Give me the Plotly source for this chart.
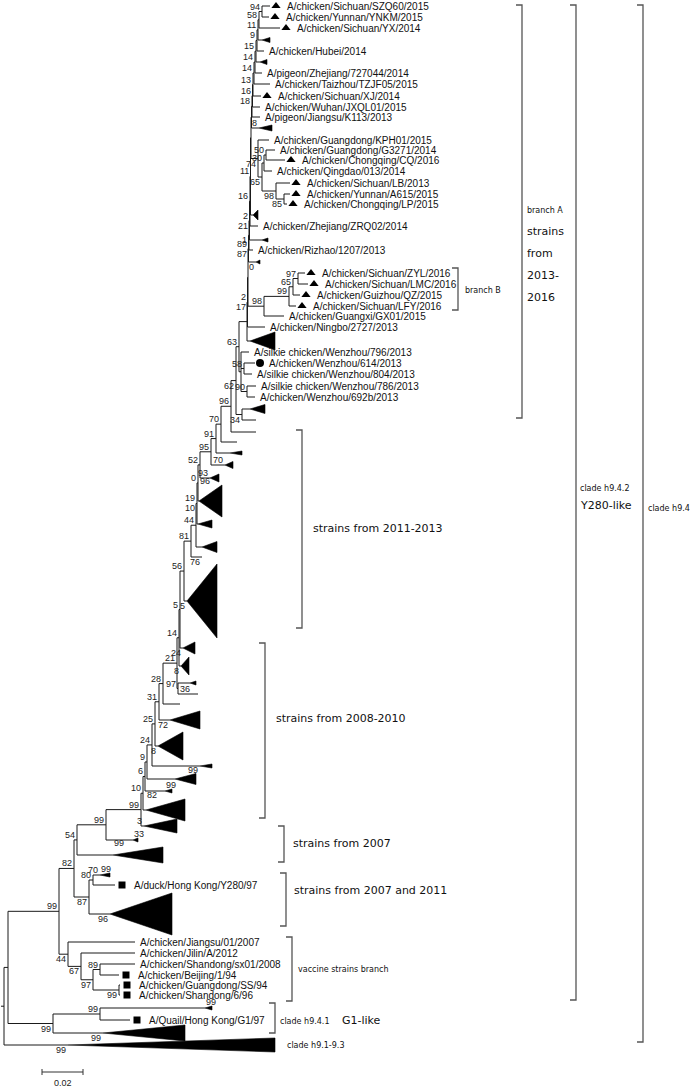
import plotly.graph_objects as go

# ---------------- tree data (x = divergence in drawing units, 41 units = 0.02) -------------
# internal nodes: (id, parent, x)
internal_nodes = [
    ("root", None, 4), ("H94", "root", 8), ("R942", "H94", 59), ("G1n", "H94", 53),
    ("N100g", "G1n", 100), ("N44", "R942", 68), ("N67", "N44", 81), ("N97", "N67", 93),
    ("N89", "N97", 100), ("N99v", "N97", 119), ("N82", "R942", 74), ("N87", "N82", 89),
    ("N80", "N87", 93), ("N54", "N82", 77), ("N99a", "N54", 106), ("Ntr", "N99a", 141),
    ("L1", "Ntr", 143), ("L2", "L1", 145), ("L3", "L2", 147), ("L4", "L3", 152),
    ("L5", "L4", 155), ("L6", "L5", 159), ("L7", "L6", 163), ("L8", "L7", 177),
    ("N36", "L8", 178), ("L9", "L8", 179), ("L10", "L9", 180), ("N56", "L10", 184),
    ("N81", "N56", 191), ("N44b", "N81", 196), ("N19", "N44b", 197), ("N0", "N19", 198),
    ("N52", "N0", 200), ("N95", "N52", 211), ("N91", "N95", 216), ("N70t", "N91", 221),
    ("N96t", "N70t", 231), ("N62", "N96t", 236), ("N34", "N62", 242), ("N63", "N62", 239),
    ("NW", "N63", 241), ("N58", "NW", 244), ("N90", "NW", 247), ("T19", "N63", 247),
    ("T18", "T19", 247.5), ("T17", "T18", 248), ("T16", "T17", 248.5), ("T15", "T16", 249),
    ("T14", "T15", 249.5), ("T13", "T14", 250), ("T12", "T13", 250.5), ("T11", "T12", 251),
    ("T10", "T11", 251.5), ("T9", "T10", 252), ("T8", "T9", 252.5), ("T7", "T8", 253),
    ("T6", "T7", 254), ("T5", "T6", 255), ("T4", "T5", 256), ("T3", "T4", 257),
    ("T2", "T3", 258), ("T1", "T2", 259), ("N94", "T1", 262), ("N74", "T11", 258),
    ("N65", "N74", 262), ("N30", "N65", 264), ("N50", "N30", 266), ("N98", "N65", 276),
    ("N85", "N98", 284), ("N98b", "T17", 264), ("N99b", "N98b", 289), ("N65b", "N99b", 293),
    ("N97b", "N65b", 298),
]

# tips: (id, parent, x_end, row_y, name, marker)
tips = [
    ("SZQ60", "N94", 270, 6, "A/chicken/Sichuan/SZQ60/2015", "tri"),
    ("YNKM", "N94", 269, 17, "A/chicken/Yunnan/YNKM/2015", "tri"),
    ("YX", "T1", 280, 28, "A/chicken/Sichuan/YX/2014", "tri"),
    ("Hubei", "T3", 264, 51, "A/chicken/Hubei/2014", None),
    ("pigZ", "T5", 262, 73, "A/pigeon/Zhejiang/727044/2014", None),
    ("TZJF", "T6", 270, 84, "A/chicken/Taizhou/TZJF05/2015", None),
    ("XJ", "T7", 261, 96, "A/chicken/Sichuan/XJ/2014", "tri"),
    ("JXQL", "T8", 260, 107, "A/chicken/Wuhan/JXQL01/2015", None),
    ("K113", "T9", 260, 117, "A/pigeon/Jiangsu/K113/2013", None),
    ("KPH01", "N74", 269, 140, "A/chicken/Guangdong/KPH01/2015", None),
    ("G3271", "N50", 275, 150, "A/chicken/Guangdong/G3271/2014", None),
    ("CQ", "N50", 285, 160, "A/chicken/Chongqing/CQ/2016", "tri"),
    ("Qingdao", "N30", 272, 171, "A/chicken/Qingdao/013/2014", None),
    ("LB", "N98", 290, 183, "A/chicken/Sichuan/LB/2013", "tri"),
    ("A615", "N85", 290, 194, "A/chicken/Yunnan/A615/2015", "tri"),
    ("LP", "N85", 287, 204, "A/chicken/Chongqing/LP/2015", "tri"),
    ("ZRQ02", "T13", 258, 226, "A/chicken/Zhejiang/ZRQ02/2014", None),
    ("Rizhao", "T15", 253, 250, "A/chicken/Rizhao/1207/2013", None),
    ("ZYL", "N97b", 305, 273, "A/chicken/Sichuan/ZYL/2016", "tri"),
    ("LMC", "N97b", 308, 284, "A/chicken/Sichuan/LMC/2016", "tri"),
    ("QZ", "N65b", 300, 295, "A/chicken/Guizhou/QZ/2015", "tri"),
    ("LFY", "N99b", 296, 306, "A/chicken/Sichuan/LFY/2016", "tri"),
    ("GX01", "N98b", 284, 316, "A/chicken/Guangxi/GX01/2015", None),
    ("Ningbo", "T18", 265, 327, "A/chicken/Ningbo/2727/2013", None),
    ("W796", "NW", 249, 352, "A/silkie chicken/Wenzhou/796/2013", None),
    ("W614", "N58", 255, 363, "A/chicken/Wenzhou/614/2013", "circ"),
    ("W804", "N58", 252, 374, "A/silkie chicken/Wenzhou/804/2013", None),
    ("W786", "N90", 256, 386, "A/silkie chicken/Wenzhou/786/2013", None),
    ("W692", "N90", 255, 397, "A/chicken/Wenzhou/692b/2013", None),
    ("t420", "N34", 256, 420, "", None),
    ("t432", "N96t", 256, 432, "", None),
    ("t442", "N70t", 237, 442, "", None),
    ("t557", "N81", 202, 557, "", None),
    ("t694", "N36", 198, 694, "", None),
    ("t704", "L7", 180, 704, "", None),
    ("Y280", "N80", 115, 885, "A/duck/Hong Kong/Y280/97", "sq"),
    ("JS01", "N44", 135, 942, "A/chicken/Jiangsu/01/2007", None),
    ("Jilin", "N67", 135, 953, "A/chicken/Jilin/A/2012", None),
    ("SDsx", "N89", 135, 964, "A/chicken/Shandong/sx01/2008", None),
    ("BJ", "N89", 119, 975, "A/chicken/Beijing/1/94", "sq"),
    ("GDSS", "N99v", 120, 985, "A/chicken/Guangdong/SS/94", "sq"),
    ("SD696", "N99v", 120, 995, "A/chicken/Shandong/6/96", "sq"),
    ("G1", "N100g", 130, 1020, "A/Quail/Hong Kong/G1/97", "sq"),
]

# collapsed clades: (id, parent, apex_x, base_x, row_y, half_height)
collapsed = [
    ("c40", "T2", 262, 270, 40, 2.5), ("c62", "T4", 260, 267, 62, 2.5),
    ("c128", "T10", 259, 272, 128, 3), ("tri215", "T12", 253, 258, 215, 5),
    ("c240", "T14", 262, 268, 240, 2), ("c262", "T16", 256, 260, 262, 2),
    ("tri340", "T19", 250, 275, 341, 9), ("tri409", "N34", 250, 265, 409, 4.5),
    ("c453", "N91", 230, 242, 453, 2), ("tri465", "N95", 225, 233, 465, 3.5),
    ("tri478", "N52", 210, 219, 478, 4), ("tri500", "N0", 199, 222, 501, 16),
    ("tri524", "N19", 198, 212, 524, 4), ("tri547", "N44b", 202, 217, 547, 5.5),
    ("tri600", "N56", 187, 217, 601, 37), ("tri648", "L10", 183, 195, 648, 6),
    ("tri663", "L9", 181, 189, 666, 9), ("c683", "N36", 190, 196, 683, 2),
    ("tri719", "L6", 170, 200, 720, 9), ("tri745", "L5", 158, 183, 746, 14),
    ("c766", "L4", 200, 212, 766, 2), ("tri779", "L3", 175, 196, 779, 5.5),
    ("c791", "L2", 165, 172, 791, 2), ("tri82", "L1", 146, 185, 810, 11),
    ("tri3b", "Ntr", 144, 177, 826, 7), ("c840", "N99a", 133, 138, 840, 2),
    ("tri2007", "N54", 113, 163, 855, 8), ("c875", "N80", 100, 110, 875, 2),
    ("tri96", "N87", 110, 172, 914, 21), ("c1008", "N100g", 205, 212, 1008, 2),
    ("trig1", "G1n", 103, 185, 1033, 8), ("trih913", "root", 68, 275, 1045, 7),
]

# bootstrap values: (node id, value, placement)
bootstrap = [
    ("N94", "94", "a"), ("T1", "58", "a"), ("T2", "11", "a"), ("T3", "9", "a"),
    ("T4", "15", "a"), ("T5", "14", "a"), ("T6", "14", "a"), ("T7", "13", "a"),
    ("T8", "16", "a"), ("T9", "18", "a"), ("c128", "8", "a"), ("N50", "50", "a"),
    ("N30", "30", "a"), ("N74", "74", "b"), ("N65", "65", "b"), ("N98", "98", "b"),
    ("N85", "85", "b"), ("T12", "11", "a"), ("T13", "16", "a"), ("T14", "2", "a"),
    ("T14", "21", "b"), ("T15", "1", "b"), ("T16", "89", "a"), ("T16", "87", "b"),
    ("c262", "0", "b"), ("N97b", "97", "a"), ("N65b", "65", "a"), ("N99b", "99", "a"),
    ("N98b", "98", "a"), ("T18", "2", "a"), ("T18", "17", "b"), ("N63", "63", "a"),
    ("N58", "58", "a"), ("N62", "62", "b"), ("N90", "90", "a"), ("N34", "34", "b"),
    ("N96t", "96", "a"), ("N70t", "70", "a"), ("N91", "91", "a"), ("N95", "95", "a"),
    ("tri465", "70", "a"), ("N52", "52", "a"), ("tri478", "93", "a"), ("N0", "0", "a"),
    ("tri500", "96", "t"), ("N19", "19", "a"), ("N19", "10", "b"), ("N44b", "44", "a"),
    ("N81", "81", "a"), ("t557", "76", "b"), ("N56", "56", "a"), ("L10", "5", "a"),
    ("tri600", "5", "b"), ("L9", "14", "a"), ("L8", "21", "a"), ("tri648", "24", "b"),
    ("tri663", "8", "b"), ("N36", "97", "a"), ("t694", "36", "s"), ("L7", "28", "a"),
    ("L6", "31", "a"), ("L5", "25", "a"), ("tri719", "72", "b"), ("L4", "24", "a"),
    ("tri745", "8", "b"), ("L3", "9", "a"), ("L2", "6", "a"), ("tri779", "99", "r"),
    ("L1", "10", "a"), ("c791", "99", "t"), ("Ntr", "99", "a"), ("tri82", "82", "t"),
    ("tri3b", "3", "a"), ("c840", "33", "t"), ("N99a", "99", "a"), ("tri2007", "99", "t"),
    ("N54", "54", "a"), ("N82", "82", "a"), ("N80", "80", "a"), ("c875", "70", "a"),
    ("c875", "99", "t"), ("N87", "87", "b"), ("tri96", "96", "b"), ("R942", "99", "a"),
    ("N44", "44", "b"), ("N67", "67", "b"), ("N89", "89", "a"), ("N97", "97", "b"),
    ("N99v", "99", "b"), ("N100g", "99", "a"), ("c1008", "99", "t"), ("G1n", "99", "b"),
    ("trig1", "99", "b"), ("trih913", "99", "b"),
]

# clade brackets: (x, y_top, y_bottom)
brackets = [
    (522, 5, 418), (458, 268, 310), (576, 5, 1000), (643, 5, 1042),
    (302, 430, 628), (265, 643, 818), (284, 826, 862), (286, 873, 926),
    (292, 937, 1001), (275, 1003, 1033),
]
# bracket texts: (text, x, y, size)
bracket_texts = [
    ("branch A", 525, 210, 8), ("strains", 525, 231, 11), ("from", 525, 253, 11),
    ("2013-", 525, 275, 11), ("2016", 525, 297, 11), ("branch B", 463, 290, 8),
    ("clade h9.4.2", 578, 488, 8), ("Y280-like", 578, 505, 11), ("clade h9.4", 646, 508, 8),
    ("strains from 2011-2013", 311, 528, 11), ("strains from 2008-2010", 274, 718, 11),
    ("strains from 2007", 291, 843, 11), ("strains from 2007 and 2011", 292, 890, 11),
    ("vaccine strains branch", 296, 969, 8), ("clade h9.4.1", 278, 1021, 8),
    ("G1-like", 340, 1020, 11), ("clade h9.1-9.3", 285, 1045, 8),
]
scale_bar = (42, 83, 1072, "0.02")

# ---------------- build geometry ----------------
X, Y, PARENT = {}, {}, {}
children = {}
for nid, par, x in internal_nodes:
    X[nid] = x; PARENT[nid] = par
for nid, par, x, y, name, mk in tips:
    X[nid] = x; Y[nid] = y; PARENT[nid] = par
HALF, BASE = {}, {}
for nid, par, ax, bx, y, h in collapsed:
    X[nid] = ax; Y[nid] = y; PARENT[nid] = par; HALF[nid] = h; BASE[nid] = bx
for nid, par in PARENT.items():
    if par is not None:
        children.setdefault(par, []).append(nid)


def get_y(n):
    if n in Y:
        return Y[n]
    ys = [get_y(c) for c in children[n]]
    Y[n] = (min(ys) + max(ys)) / 2
    return Y[n]


get_y("root")

lx, ly = [], []
for nid, par in PARENT.items():
    if par is not None:
        lx += [X[par], X[nid], None]; ly += [Y[nid], Y[nid], None]
    if nid in children:
        ys = [Y[c] for c in children[nid]]
        lx += [X[nid], X[nid], None]; ly += [min(ys), max(ys), None]
lx += [1, X["root"], None]; ly += [Y["root"], Y["root"], None]

tx, ty = [], []
for nid, par, ax, bx, y, h in collapsed:
    tx += [ax, bx, bx, ax, None]; ty += [y, y - h, y + h, y, None]

fig = go.Figure()
fig.add_trace(go.Scatter(x=lx, y=ly, mode="lines", line=dict(color="#1a1a1a", width=1),
                         hoverinfo="skip", showlegend=False))
fig.add_trace(go.Scatter(x=tx, y=ty, mode="lines", fill="toself", fillcolor="black",
                         line=dict(color="black", width=0.6), hoverinfo="skip", showlegend=False))

mk_cfg = {"tri": ("triangle-up", 8, 6, 15), "sq": ("square", 7, 7, 17), "circ": ("circle", 8, 5, 12)}
for kind, (sym, size, off, _) in mk_cfg.items():
    mx = [x + off for nid, par, x, y, nm, m in tips if m == kind]
    my = [y for nid, par, x, y, nm, m in tips if m == kind]
    fig.add_trace(go.Scatter(x=mx, y=my, mode="markers", marker=dict(symbol=sym, size=size, color="black"),
                             hoverinfo="skip", showlegend=False))

ann = []
for nid, par, x, y, name, m in tips:
    if not name:
        continue
    tx0 = x + (mk_cfg[m][3] if m else 3)
    ann.append(dict(x=tx0, y=y, text=name, xanchor="left", yanchor="middle", showarrow=False,
                    font=dict(family="Arial, Liberation Sans, sans-serif", size=10, color="#111")))

for nid, val, mode in bootstrap:
    x, y = X[nid], Y[nid]
    if mode == "a":
        a = dict(x=x - 1, y=y - 5, xanchor="right")
    elif mode == "b":
        a = dict(x=x - 1, y=y + 5, xanchor="right")
    elif mode == "t":
        a = dict(x=x, y=y - HALF.get(nid, 0) - 4, xanchor="left")
    elif mode == "r":
        a = dict(x=BASE[nid] - 9, y=y - HALF.get(nid, 0) - 4, xanchor="left")
    else:
        a = dict(x=X[PARENT[nid]] + 1, y=y - 5, xanchor="left")
    a.update(text=val, yanchor="middle", showarrow=False, borderpad=0,
             font=dict(family="Arial, Liberation Sans, sans-serif", size=9, color="#222"))
    ann.append(a)

bx_, by_ = [], []
for x, y0, y1 in brackets:
    bx_ += [x - 6, x, x, x - 6, None]; by_ += [y0, y0, y1, y1, None]
fig.add_trace(go.Scatter(x=bx_, y=by_, mode="lines", line=dict(color="#555", width=1.3),
                         hoverinfo="skip", showlegend=False))
for text, x, y, s in bracket_texts:
    ann.append(dict(x=x, y=y, text=text, xanchor="left", yanchor="middle", showarrow=False,
                    font=dict(family="DejaVu Sans, Verdana, sans-serif", size=s, color="#111")))

sx0, sx1, sy, slab = scale_bar
fig.add_trace(go.Scatter(x=[sx0, sx1, None, sx0, sx0, None, sx1, sx1],
                         y=[sy, sy, None, sy - 3, sy + 3, None, sy - 3, sy + 3],
                         mode="lines", line=dict(color="#333", width=1), hoverinfo="skip", showlegend=False))
ann.append(dict(x=(sx0 + sx1) / 2, y=sy + 11, text=slab, showarrow=False, xanchor="center", yanchor="middle",
                font=dict(family="Arial, Liberation Sans, sans-serif", size=9, color="#222")))

fig.update_layout(width=694, height=1089, margin=dict(l=0, r=0, t=0, b=0),
                  plot_bgcolor="white", paper_bgcolor="white", annotations=ann,
                  xaxis=dict(range=[0, 694], visible=False, fixedrange=True),
                  yaxis=dict(range=[1089, 0], visible=False, fixedrange=True))
fig.write_html("out.html", config={"displayModeBar": False},
               post_script="document.body.style.margin='0';document.body.style.overflow='hidden';")
